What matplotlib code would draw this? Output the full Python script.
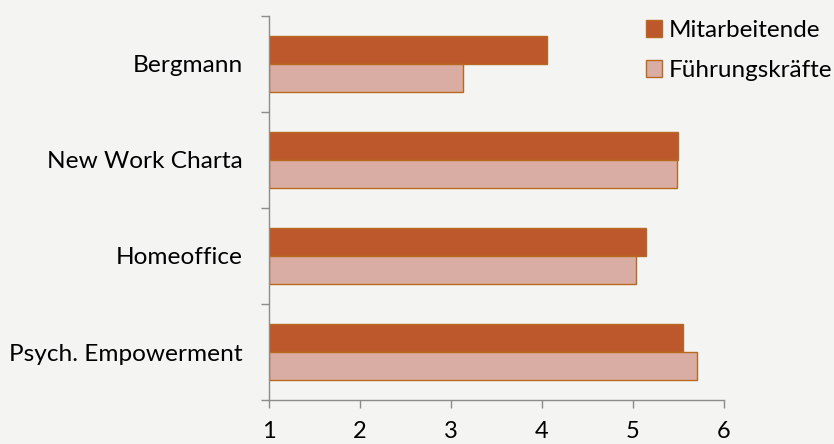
import numpy as np
import matplotlib.pyplot as plt
from matplotlib.patches import Patch

categories = ['Bergmann', 'New Work Charta', 'Homeoffice', 'Psych. Empowerment']
mitarbeitende = [4.06, 5.49, 5.14, 5.55]
fuehrungskraefte = [3.13, 5.48, 5.03, 5.70]
series_names = ['Mitarbeitende', 'Führungskräfte']
x_ticks = [1, 2, 3, 4, 5, 6]

c_dark = '#BD582C'
c_light = '#D9ADA4'
c_edge = '#B9691F'
bg = '#F4F4F3'

plt.rcParams['font.family'] = ['Lato', 'DejaVu Sans']

fig = plt.figure(figsize=(8.34, 4.44), dpi=100, facecolor=bg)
ax = fig.add_axes([269 / 834, 44 / 444, 455 / 834, 384 / 444])
ax.set_facecolor(bg)

n = len(categories)
# top category at the top
pos = np.arange(n)[::-1] + 0.5
h = 0.29
base = 1
ax.barh(pos + h / 2, np.array(mitarbeitende) - base, left=base, height=h,
        color=c_dark, edgecolor=c_edge, linewidth=1)
ax.barh(pos - h / 2, np.array(fuehrungskraefte) - base, left=base, height=h,
        color=c_light, edgecolor=c_edge, linewidth=1)

ax.set_xlim(1, 6)
ax.set_ylim(0, n)
ax.set_xticks(x_ticks)
ax.set_xticklabels([str(t) for t in x_ticks])
ax.set_yticks(np.arange(n + 1))
ax.set_yticklabels([])
ax.set_yticks(pos, minor=True)
ax.set_yticklabels(categories, minor=True)

for s in ['top', 'right']:
    ax.spines[s].set_visible(False)
for s in ['left', 'bottom']:
    ax.spines[s].set_color('#8C8C8C')
    ax.spines[s].set_linewidth(1)

ax.tick_params(axis='x', length=6, width=1, color='#8C8C8C', labelsize=17, pad=9)
ax.tick_params(axis='y', which='major', length=6, width=1, color='#8C8C8C')
ax.tick_params(axis='y', which='minor', length=0, labelsize=17.6, pad=19)

handles = [Patch(facecolor=c_dark, edgecolor=c_edge, label=series_names[0]),
           Patch(facecolor=c_light, edgecolor=c_edge, label=series_names[1])]
fig.legend(handles=handles, loc='upper left', bbox_to_anchor=(646 / 834, 1 - 20 / 444),
           frameon=False, fontsize=17.5, handlelength=0.65, handleheight=0.65,
           handletextpad=0.3, labelspacing=0.78, borderaxespad=0, borderpad=0)

fig.savefig('out.png', dpi=100, facecolor=bg)
